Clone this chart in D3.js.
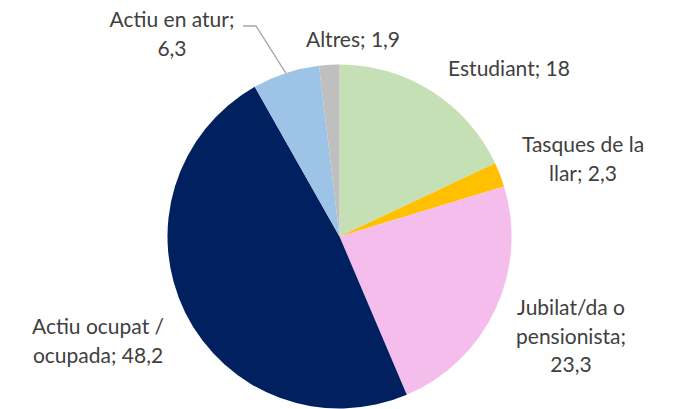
<!DOCTYPE html>
<html>
<head>
<meta charset="utf-8">
<script src="https://cdn.jsdelivr.net/npm/d3@7"></script>
<style>
  html, body { margin: 0; padding: 0; background: #fff; }
  svg { display: block; }
</style>
</head>
<body>
<div id="chart"></div>
<script>
// Data (percent)
const categories = ["Estudiant", "Tasques de la llar", "Jubilat/da o pensionista", "Actiu ocupat / ocupada", "Actiu en atur", "Altres"];
const values = [18, 2.3, 23.3, 48.2, 6.3, 1.9];
const valueLabels = ["18", "2,3", "23,3", "48,2", "6,3", "1,9"];
const colors = ["#C5E0B4", "#FFC000", "#F4BDEC", "#002060", "#9DC3E6", "#BFBFBF"];

// Label text as it wraps in the reference
const labelLines = [
  ["Estudiant; 18"],
  ["Tasques de la", "llar; 2,3"],
  ["Jubilat/da o", "pensionista;", "23,3"],
  ["Actiu ocupat /", "ocupada; 48,2"],
  ["Actiu en atur;", "6,3"],
  ["Altres; 1,9"]
];

const W = 679, H = 409;
const CX = 339.5, CY = 236.5, R = 172;
const FONT = "21px Lato, 'Open Sans', sans-serif";
const LINE_H = 28.5;
// label anchor (center x, first baseline y)
const labelPos = [
  { x: 509, y: 76 },
  { x: 583, y: 152 },
  { x: 571, y: 315 },
  { x: 98, y: 334 },
  { x: 172, y: 27 },
  { x: 353, y: 47 }
];

const svg = d3.select("#chart").append("svg")
  .attr("width", W).attr("height", H);

const pie = d3.pie().sort(null).value((d) => d).startAngle(0).endAngle(2 * Math.PI);
const arcs = pie(values);
const arc = d3.arc().innerRadius(0).outerRadius(R);

const g = svg.append("g").attr("transform", `translate(${CX},${CY})`);
g.selectAll("path")
  .data(arcs)
  .join("path")
  .attr("d", arc)
  .attr("fill", (d, i) => colors[i]);

// Leader line for "Actiu en atur"
const iAtur = 4;
const a = (arcs[iAtur].startAngle + arcs[iAtur].endAngle) / 2;
const ex = CX + R * Math.sin(a), ey = CY - R * Math.cos(a);
svg.append("polyline")
  .attr("points", `243,26 256,26 ${ex},${ey}`)
  .attr("fill", "none")
  .attr("stroke", "#A6A6A6")
  .attr("stroke-width", 1.3);

const labels = svg.append("g")
  .selectAll("text")
  .data(labelLines)
  .join("text")
  .attr("text-anchor", "middle")
  .attr("fill", "#404040")
  .style("font", FONT);

labels.each(function (lines, i) {
  const t = d3.select(this);
  lines.forEach((ln, k) => {
    t.append("tspan")
      .attr("x", labelPos[i].x)
      .attr("y", labelPos[i].y + k * LINE_H)
      .text(ln);
  });
});
</script>
</body>
</html>
